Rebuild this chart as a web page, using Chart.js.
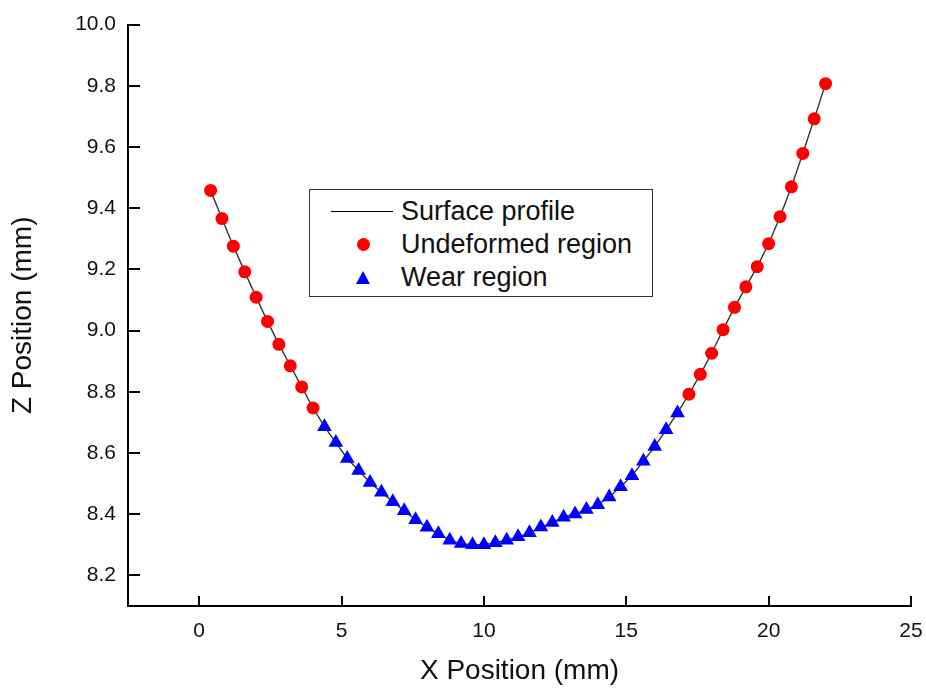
<!DOCTYPE html>
<html>
<head>
<meta charset="utf-8">
<script src="https://cdn.jsdelivr.net/npm/chart.js@4"></script>
<style>
  body { margin: 0; background: #fff; }
  #wrap { position: relative; width: 926px; height: 688px; }
  #legend {
    position: absolute; left: 309px; top: 189px; width: 342px; height: 106px;
    border: 1.5px solid #333; background: #fff;
    font-family: "Liberation Sans", Arial, sans-serif; font-size: 27px; color: #111;
  }
  .row { position: absolute; left: 0; height: 34px; line-height: 34px; }
  .row span { position: absolute; left: 91px; white-space: nowrap; }
  .sym { position: absolute; }
</style>
</head>
<body>
<div id="wrap">
  <canvas id="chart" width="926" height="688"></canvas>
  <div id="legend">
    <div class="row" style="top:4px"><div class="sym" style="left:21px;top:17px;width:62px;height:0;border-top:1.3px solid #000"></div><span>Surface profile</span></div>
    <div class="row" style="top:37px"><div class="sym" style="left:47px;top:11px;width:13px;height:13px;border-radius:50%;background:#ff0000"></div><span>Undeformed region</span></div>
    <div class="row" style="top:70px"><div class="sym" style="left:46px;top:11px;width:0;height:0;border-left:7.5px solid transparent;border-right:7.5px solid transparent;border-bottom:13px solid #0000ff"></div><span>Wear region</span></div>
  </div>
</div>
<script>
// --- DATA ---
const leftX = [0.4, 0.8, 1.2, 1.6, 2.0, 2.4, 2.8, 3.2, 3.6, 4.0];
const leftZ = [9.458, 9.366, 9.276, 9.192, 9.109, 9.030, 8.955, 8.885, 8.816, 8.747];

const wearX = [4.4, 4.8, 5.2, 5.6, 6.0, 6.4, 6.8, 7.2, 7.6, 8.0,
               8.4, 8.8, 9.2, 9.6, 10.0, 10.4, 10.8, 11.2, 11.6, 12.0,
               12.4, 12.8, 13.2, 13.6, 14.0, 14.4, 14.8, 15.2, 15.6, 16.0,
               16.4, 16.8];
const wearZ = [8.686, 8.634, 8.582, 8.543, 8.504, 8.472, 8.441, 8.411, 8.382, 8.357,
               8.336, 8.315, 8.304, 8.300, 8.300, 8.307, 8.315, 8.326, 8.339, 8.358,
               8.373, 8.390, 8.401, 8.415, 8.431, 8.456, 8.490, 8.526, 8.573, 8.621,
               8.676, 8.731];

const rightX = [17.2, 17.6, 18.0, 18.4, 18.8, 19.2, 19.6, 20.0, 20.4, 20.8, 21.2, 21.6, 22.0];
const rightZ = [8.792, 8.857, 8.926, 9.003, 9.076, 9.143, 9.209, 9.284, 9.372, 9.470, 9.579, 9.692, 9.807];

const xTicks = [0, 5, 10, 15, 20, 25];
const yTicks = [8.2, 8.4, 8.6, 8.8, 9.0, 9.2, 9.4, 9.6, 9.8, 10.0];

const toPts = (xs, zs) => xs.map((x, i) => ({ x: x, y: zs[i] }));
const undeformedPts = toPts(leftX, leftZ).concat(toPts(rightX, rightZ));
const wearPts = toPts(wearX, wearZ);
const profilePts = toPts(leftX, leftZ).concat(wearPts, toPts(rightX, rightZ));

// --- INWARD TICKS ---
const innerTicks = {
  id: 'innerTicks',
  beforeDatasetsDraw(chart) {
    const { ctx, chartArea: a, scales: { x, y } } = chart;
    ctx.save();
    ctx.strokeStyle = '#000';
    ctx.lineWidth = 2;
    ctx.beginPath();
    x.ticks.forEach(t => {
      const px = Math.round(x.getPixelForValue(t.value));
      ctx.moveTo(px, a.bottom);
      ctx.lineTo(px, a.bottom - 10);
    });
    y.ticks.forEach(t => {
      const py = Math.round(y.getPixelForValue(t.value));
      ctx.moveTo(a.left, py);
      ctx.lineTo(a.left + 12, py);
    });
    ctx.stroke();
    ctx.restore();
  }
};

const font = "'Liberation Sans', Arial, sans-serif";

new Chart(document.getElementById('chart'), {
  type: 'scatter',
  data: {
    datasets: [
      {
        label: 'Undeformed region',
        data: undeformedPts,
        pointStyle: 'circle',
        pointRadius: 6.5,
        backgroundColor: '#ff0000',
        borderColor: '#ff0000',
        borderWidth: 0
      },
      {
        label: 'Wear region',
        data: wearPts,
        pointStyle: 'triangle',
        pointRadius: 8.5,
        backgroundColor: '#0000ff',
        borderColor: '#0000ff',
        borderWidth: 0
      },
      {
        label: 'Surface profile',
        data: profilePts,
        showLine: true,
        pointRadius: 0,
        borderColor: '#333',
        borderWidth: 1.4,
        tension: 0
      }
    ]
  },
  options: {
    responsive: false,
    animation: false,
    layout: { padding: { top: 23, right: 0, bottom: 0, left: 0 } },
    plugins: { legend: { display: false }, tooltip: { enabled: false } },
    scales: {
      x: {
        type: 'linear',
        min: -2.5,
        max: 25,
        afterBuildTicks: s => { s.ticks = xTicks.map(v => ({ value: v })); },
        afterFit: s => { s.height = 82; s.paddingRight = 15; },
        grid: { display: false, drawTicks: false },
        border: { display: true, color: '#000', width: 2 },
        ticks: { padding: 13, color: '#111', font: { family: font, size: 21 }, maxRotation: 0, callback: v => v },
        title: { display: true, text: 'X Position (mm)', color: '#111', font: { family: font, size: 28 }, padding: { top: 0, bottom: 0 } }
      },
      y: {
        type: 'linear',
        min: 8.1,
        max: 10.0,
        afterBuildTicks: s => { s.ticks = yTicks.map(v => ({ value: v })); },
        afterFit: s => { s.width = 128; },
        grid: { display: false, drawTicks: false },
        border: { display: true, color: '#000', width: 2 },
        ticks: { padding: 12, color: '#111', font: { family: font, size: 21 }, callback: v => Number(v).toFixed(1) },
        title: { display: true, text: 'Z Position (mm)', color: '#111', font: { family: font, size: 28 }, padding: { top: 6, bottom: 0 } }
      }
    }
  },
  plugins: [innerTicks]
});
</script>
</body>
</html>
